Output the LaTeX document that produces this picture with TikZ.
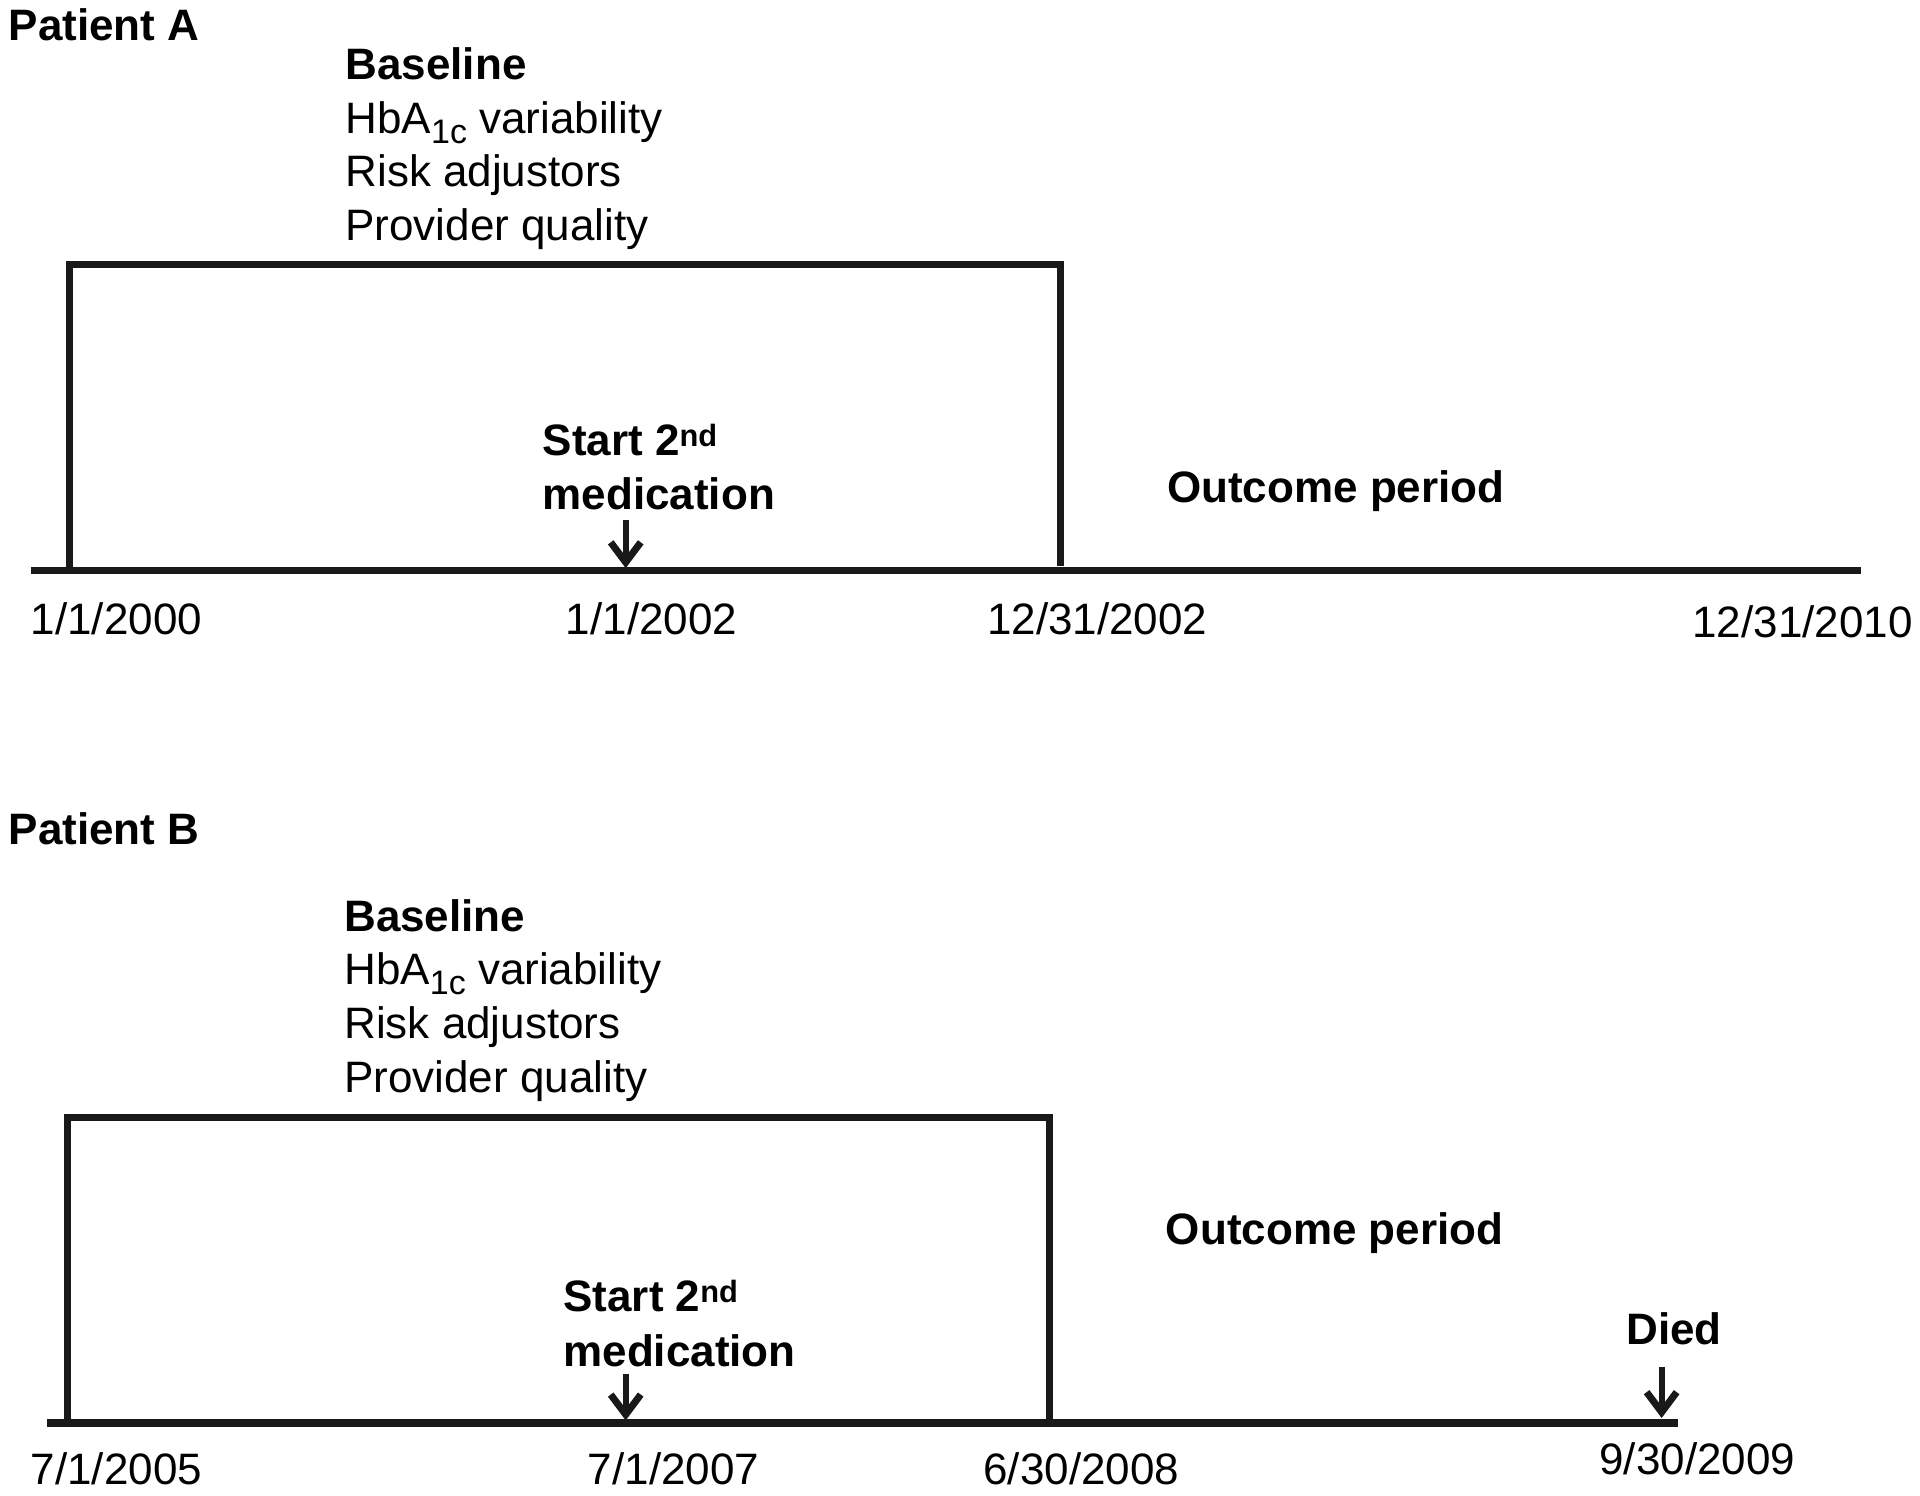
\documentclass[tikz,border=0pt]{standalone}
\usepackage{fontspec}
\setmainfont{Liberation Sans}
\usetikzlibrary{arrows.meta}
\newcommand{\mysub}[1]{\raisebox{-10pt}{\fontsize{34}{34}\selectfont #1}}
\begin{document}
\begin{tikzpicture}[x=1.2245pt,y=-1.2245pt,
  txt/.style={anchor=base west,inner sep=0pt,font=\fontsize{44}{54}\selectfont},
  btxt/.style={txt,font=\fontsize{44}{54}\selectfont\bfseries},
  tline/.style={line width=7.5pt,line cap=butt,draw=black!90},
  frame/.style={line width=7pt,line join=miter,draw=black!90},
  marker/.style={line width=6pt,draw=black!90,-{Straight Barb[length=20pt,width=30pt,line width=7pt]}}]
\useasboundingbox (0,0) rectangle (1568,1221);
% ---------- Patient A ----------
\node[btxt] (pa) at (7,33) {Patient A};
\node[btxt] (blA) at (282,65) {Baseline};
\node[txt] (hbA) at (282,109) {HbA\mysub{1c} variability};
\node[txt] (riskA) at (282,152) {Risk adjustors};
\node[txt] (provA) at (282,196) {Provider quality};
\node[btxt] (startA) at (443,372) {Start 2\textsuperscript{nd}};
\node[btxt] (medA) at (443,416) {medication};
\node[btxt] (outA) at (953,410) {Outcome period};
\coordinate (tA0) at (25,466);
\coordinate (tA1) at (1520,466);
\coordinate (rA1) at (57,466);
\coordinate (rA2) at (57,216);
\coordinate (rA3) at (866,216);
\coordinate (rA4) at (866,462);
\coordinate (aA0) at (511,425);
\coordinate (aA1) at (511,464);
\draw[frame] (rA1) -- (rA2) -- (rA3) -- (rA4);
\draw[tline] (tA0) -- (tA1);
\draw[marker] (aA0) -- (aA1);
\node[txt] (dA1) at (25,518) {1/1/2000};
\node[txt] (dA2) at (462,518) {1/1/2002};
\node[txt] (dA3) at (806,518) {12/31/2002};
\node[txt] (dA4) at (1382,521) {12/31/2010};
% ---------- Patient B ----------
\node[btxt] (pb) at (7,690) {Patient B};
\node[btxt] (blB) at (281,761) {Baseline};
\node[txt] (hbB) at (281,804) {HbA\mysub{1c} variability};
\node[txt] (riskB) at (281,848) {Risk adjustors};
\node[txt] (provB) at (281,892) {Provider quality};
\node[btxt] (outB) at (952,1016) {Outcome period};
\node[btxt] (startB) at (460,1071) {Start 2\textsuperscript{nd}};
\node[btxt] (medB) at (460,1116) {medication};
\node[btxt] (died) at (1328,1098) {Died};
\coordinate (tB0) at (38,1162);
\coordinate (tB1) at (1370,1162);
\coordinate (rB1) at (55,1162);
\coordinate (rB2) at (55,913);
\coordinate (rB3) at (857,913);
\coordinate (rB4) at (857,1162);
\coordinate (aB0) at (511,1122);
\coordinate (aB1) at (511,1160);
\coordinate (dB0) at (1357,1116);
\coordinate (dB1) at (1357,1158);
\draw[frame] (rB1) -- (rB2) -- (rB3) -- (rB4);
\draw[tline] (tB0) -- (tB1);
\draw[marker] (aB0) -- (aB1);
\draw[marker] (dB0) -- (dB1);
\node[txt] (dB1t) at (25,1212) {7/1/2005};
\node[txt] (dB2t) at (480,1212) {7/1/2007};
\node[txt] (dB3t) at (803,1212) {6/30/2008};
\node[txt] (dB4t) at (1306,1204) {9/30/2009};
\end{tikzpicture}
\end{document}
